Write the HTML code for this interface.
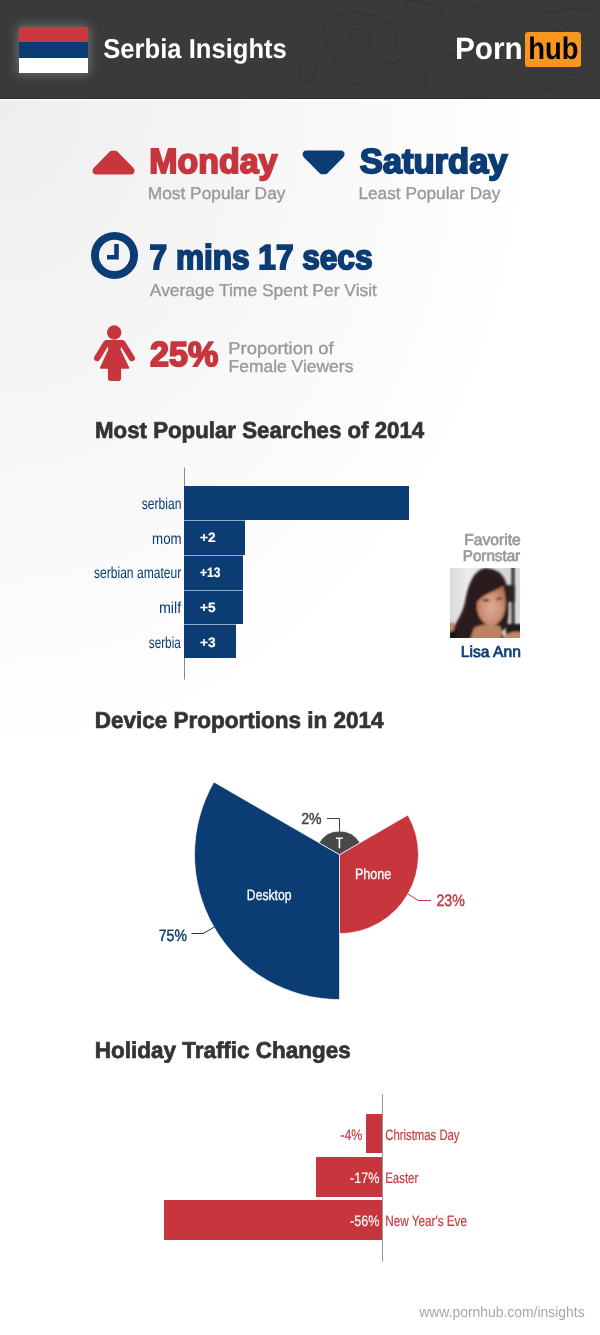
<!DOCTYPE html>
<html lang="en">
<head>
<meta charset="utf-8">
<title>Serbia Insights</title>
<style>
*{box-sizing:border-box;margin:0;padding:0}
html,body{width:600px;height:1335px;overflow:hidden}
body{position:relative;font-family:"Liberation Sans",sans-serif;background:#fff;color:#333}
#bg{position:absolute;left:0;top:0;width:600px;height:1335px;background:radial-gradient(ellipse 540px 660px at 0 100px,#eeeeee 0%,#f2f2f2 25%,#fafafa 70%,#ffffff 100%)}
#hdr{position:absolute;left:0;top:0;width:600px;height:99px;background:#3a3a3a;border-bottom:1px solid #2c2c2c;overflow:hidden}
.abs{position:absolute}
.t{position:absolute;left:0;top:0;white-space:nowrap;line-height:1;transform-origin:0 0;text-rendering:geometricPrecision}
.bar{position:absolute;background:#0c3c74;left:184.400px}
.sep{border-top:1px solid #93a8c4}
.hbar{position:absolute;background:#c7363d}
</style>
</head>
<body>
<div id="bg"></div>
<div id="hdr">
  <svg class="abs" style="left:0;top:0" width="600" height="99" viewBox="0 0 600 99" fill="none" stroke="#2f2f2f" stroke-width="1" stroke-linejoin="round" opacity=".8">
    <path d="M325 22 Q333 12 346 14 Q358 9 366 16 Q378 13 384 22 Q395 24 398 34 Q392 40 396 48 Q404 52 400 60 Q392 66 384 62 Q380 72 370 76 Q362 86 352 84 Q348 74 340 70 Q332 62 334 52 Q324 46 326 36 Q320 30 325 22 Z"/>
    <path d="M352 30 Q362 26 368 34 Q372 44 364 50 Q354 50 350 42 Q348 34 352 30 Z"/>
    <path d="M404 2 Q416 -2 428 4 Q440 6 442 16 Q438 28 430 36 Q424 30 418 24 Q408 18 404 2 Z"/>
    <path d="M470 8 Q476 4 482 8 Q480 14 474 14 Z"/>
    <path d="M536 20 Q544 10 556 12 Q566 6 578 10 Q590 8 600 14 M540 28 Q548 24 552 30 Q560 34 566 28 Q574 26 580 20 M560 78 Q570 72 584 76 Q594 80 600 76 M520 86 Q530 82 540 88 Q548 92 556 88"/>
    <path d="M300 60 Q308 54 314 62 Q318 72 312 80 Q304 84 300 76 Z M290 14 Q300 10 306 16 Q302 24 294 22 Z M410 70 Q418 66 424 74 Q428 84 420 90 M446 56 Q452 52 458 58"/>
  </svg>
  <div class="abs" style="left:19px;top:27px;width:69px;height:46px;background:linear-gradient(#c9383f 0,#c9383f 15.300px,#0c3c74 15.300px,#0c3c74 30.600px,#fff 30.600px);box-shadow:0 0 11px 1px rgba(255,255,255,.3)"></div>
  <div class="abs" style="left:525px;top:32px;width:56px;height:35px;background:#f7971d;border-radius:3px"></div>
</div>
<div class="abs" style="left:0;top:99px;width:600px;height:2px;background:linear-gradient(#fff,rgba(255,255,255,0))"></div>

<svg class="abs" style="left:0;top:0" width="600" height="1335" viewBox="0 0 600 1335">
  <path d="M111.600 150.800 H115.600 Q116.600 150.800 117.300 151.500 L133.300 167.800 Q135.300 170 134.300 172.300 Q133.300 174.500 131 174.500 H96.100 Q93.800 174.500 92.800 172.300 Q91.800 170 93.800 167.800 L109.900 151.500 Q110.600 150.800 111.600 150.800 Z" fill="#c7363d"/>
  <path d="M 321.60 174.20 H 325.60 Q 326.60 174.20 327.30 173.50 L 343.30 157.20 Q 345.30 155.00 344.30 152.70 Q 343.30 150.50 341.00 150.50 H 306.10 Q 303.80 150.50 302.80 152.70 Q 301.80 155.00 303.80 157.20 L 319.90 173.50 Q 320.60 174.20 321.60 174.20 Z" fill="#0c3c74"/>
  <circle cx="114.500" cy="255.400" r="19.550" fill="none" stroke="#0c3c74" stroke-width="7.900"/>
  <path d="M116.500 244 V257.200 H107" fill="none" stroke="#0c3c74" stroke-width="4.600"/>
  <g fill="#c7363d">
    <circle cx="114.200" cy="332.500" r="7.200"/>
    <path d="M106.500 340.100 H122 L120.600 349.500 L129.200 367.600 Q129.600 368.700 128.500 368.700 H100.700 Q99.600 368.700 100 367.600 L108.300 349.500 Z"/>
    <rect x="107.900" y="364" width="13.200" height="16.900" rx="2.600"/>
    <path d="M106.300 343.200 L97.100 358.100 M122.400 343.200 L131.800 358.100" stroke="#c7363d" stroke-width="6.200" stroke-linecap="round" fill="none"/>
  </g>
  <!-- search axis -->
  <rect x="184" y="467.500" width="1" height="212" fill="#8a8a8a"/>
  <!-- holiday axis -->
  <rect x="382" y="1094" width="1" height="167.500" fill="#999"/>
  <!-- pie -->
  <g stroke="#fff" stroke-opacity=".85" stroke-width="0.8" stroke-linejoin="round">
    <path d="M339.5 854.6 L339.50 999.60 A145 145 0 0 1 213.93 782.10 Z" fill="#0c3c74"/>
    <path d="M339.5 854.6 L407.92 815.10 A79 79 0 0 1 339.50 933.60 Z" fill="#c7363d"/>
    <path d="M339.5 854.6 L319.06 842.80 A23.6 23.6 0 0 1 359.94 842.80 Z" fill="#484848"/>
  </g>
  <path d="M327 818.500 H339.500 V831" fill="none" stroke="#444" stroke-width="1"/>
  <path d="M191.500 933.500 H203 L214.500 927" fill="none" stroke="#0c3c74" stroke-width="1"/>
  <path d="M431 900.500 H418.200 L408 894" fill="none" stroke="#c7363d" stroke-width="1"/>
</svg>

<div class="bar" style="top:486px;width:225.100px;height:34.200px"></div>
<div class="bar sep" style="top:520.200px;width:60.300px;height:34.700px"></div>
<div class="bar sep" style="top:554.900px;width:58.300px;height:34.700px"></div>
<div class="bar sep" style="top:589.600px;width:58.300px;height:34.700px"></div>
<div class="bar sep" style="top:624.300px;width:51.300px;height:34.100px"></div>

<svg class="abs" style="left:450px;top:568px" width="70" height="70" viewBox="0 0 70 70">
  <defs>
    <filter id="bl" x="-10%" y="-10%" width="120%" height="120%"><feGaussianBlur stdDeviation="0.9"/></filter>
    <linearGradient id="pbg" x1="0" y1="0" x2="1" y2="0"><stop offset="0" stop-color="#d9d9dc"/><stop offset=".25" stop-color="#ececee"/><stop offset=".8" stop-color="#d4d5d8"/><stop offset="1" stop-color="#dcdde2"/></linearGradient>
    <radialGradient id="skin" cx=".5" cy=".55" r=".6"><stop offset="0" stop-color="#e0ab93"/><stop offset=".6" stop-color="#cc8f74"/><stop offset="1" stop-color="#b0704f"/></radialGradient>
    <clipPath id="pc"><rect x="0" y="0" width="70" height="70"/></clipPath>
  </defs>
  <g clip-path="url(#pc)">
    <rect x="0" y="0" width="70" height="70" fill="url(#pbg)"/>
    <g filter="url(#bl)">
      <rect x="61.500" y="-2" width="3" height="74" fill="#262626"/>
      <rect x="57" y="17" width="8" height="17" fill="#2a2624"/>
      <rect x="56" y="56" width="16" height="11" fill="#1c1a1a"/>
      <path d="M52 72 Q56 62 72 64 V72 Z" fill="#c08768"/>
      <path d="M-2 55 Q2 53 5 56 L6 65 L-2 67 Z" fill="#c08768"/>
      <path d="M36 0 Q50 1 55 12 Q59 22 58.500 36 Q59 50 57 58 Q54 63 50 64 L30 72 H4 Q2 62 6 55 Q12 46 15 34 Q17 20 22 11 Q27 1 36 0 Z" fill="#2a1c1c"/>
      <path d="M24 60 Q34 54 50 58 L54 72 H20 Z" fill="#bd8163"/>
      <path d="M27 34 Q33 27 44 23 Q50 20 53 18 Q56 26 55.500 38 Q54.500 50 47 56 Q42 59.500 37 57 Q29 52 27 42 Z" fill="url(#skin)"/>
      <path d="M33 31.500 Q36.500 30.300 40 32.500 Q36.500 34 33 33 Z" fill="#2a1a18"/>
      <path d="M46.500 30.500 Q50 28.800 53 30 Q50 32.300 46.500 32 Z" fill="#2a1a18"/>
      <path d="M38 49.500 Q42.500 47.500 48 48.500 Q44 53 38 49.500 Z" fill="#d98a97"/>
      <path d="M-2 64 L7 62 L8 72 H-2 Z" fill="#241818"/>
      <path d="M52 64 L54 72 H51 Z" fill="#1c1414"/>
    </g>
  </g>
</svg>

<div class="hbar" style="left:366.300px;top:1113.700px;width:15.400px;height:39.800px"></div>
<div class="hbar" style="left:316px;top:1157px;width:65.700px;height:39.600px"></div>
<div class="hbar" style="left:164px;top:1200.200px;width:217.700px;height:39.600px"></div>

<div class="t" style="font-size:27.3px;color:#fff;transform:translate(103.22px,35.00px) scaleX(0.9382);font-weight:bold;">Serbia Insights</div>
<div class="t" style="font-size:31.04px;color:#fff;transform:translate(455.03px,33.00px) scaleX(0.9581);font-weight:bold;">Porn</div>
<div class="t" style="font-size:31.04px;color:#000;transform:translate(528.24px,33.00px) scaleX(0.8836);font-weight:bold;">hub</div>
<div class="t" style="font-size:34.86px;color:#c7363d;transform:translate(149.30px,145.00px) scaleX(0.9725);font-weight:bold;-webkit-text-stroke:1.9px #c7363d;">Monday</div>
<div class="t" style="font-size:17px;color:#999999;transform:translate(147.71px,185.00px) scaleX(1.0193);-webkit-text-stroke:0.35px #999999;">Most Popular Day</div>
<div class="t" style="font-size:34.86px;color:#0c3c74;transform:translate(359.63px,145.00px) scaleX(0.9919);font-weight:bold;-webkit-text-stroke:1.9px #0c3c74;">Saturday</div>
<div class="t" style="font-size:17px;color:#999999;transform:translate(358.43px,185.00px) scaleX(1.0144);-webkit-text-stroke:0.35px #999999;">Least Popular Day</div>
<div class="t" style="font-size:34.68px;color:#0c3c74;transform:translate(149.59px,241.00px) scaleX(0.9105);font-weight:bold;-webkit-text-stroke:1.9px #0c3c74;">7 mins 17 secs</div>
<div class="t" style="font-size:17px;color:#999999;transform:translate(149.82px,282.00px) scaleX(1.0258);-webkit-text-stroke:0.35px #999999;">Average Time Spent Per Visit</div>
<div class="t" style="font-size:34.68px;color:#c7363d;transform:translate(150.11px,338.00px) scaleX(0.9825);font-weight:bold;-webkit-text-stroke:1.9px #c7363d;">25%</div>
<div class="t" style="font-size:17px;color:#999999;transform:translate(228.36px,340.00px) scaleX(1.0805);-webkit-text-stroke:0.35px #999999;">Proportion of</div>
<div class="t" style="font-size:17px;color:#999999;transform:translate(228.54px,358.00px) scaleX(1.0268);-webkit-text-stroke:0.35px #999999;">Female Viewers</div>
<div class="t" style="font-size:23px;color:#333333;transform:translate(95.00px,419.00px) scaleX(0.9682);font-weight:bold;-webkit-text-stroke:0.7px #333333;">Most Popular Searches of 2014</div>
<div class="t" style="font-size:23px;color:#333333;transform:translate(94.70px,709.00px) scaleX(0.9782);font-weight:bold;-webkit-text-stroke:0.7px #333333;">Device Proportions in 2014</div>
<div class="t" style="font-size:23px;color:#333333;transform:translate(94.75px,1039.00px) scaleX(0.9770);font-weight:bold;-webkit-text-stroke:0.7px #333333;">Holiday Traffic Changes</div>
<div class="t" style="font-size:16px;color:#0c3c74;transform:translate(141.78px,497.00px) scaleX(0.7576);">serbian</div>
<div class="t" style="font-size:16px;color:#0c3c74;transform:translate(152.06px,532.00px) scaleX(0.8308);">mom</div>
<div class="t" style="font-size:16px;color:#0c3c74;transform:translate(93.95px,566.00px) scaleX(0.7548);">serbian amateur</div>
<div class="t" style="font-size:16px;color:#0c3c74;transform:translate(158.96px,601.00px) scaleX(0.8912);">milf</div>
<div class="t" style="font-size:16px;color:#0c3c74;transform:translate(148.75px,636.00px) scaleX(0.7352);">serbia</div>
<div class="t" style="font-size:13.57px;color:#fff;transform:translate(199.95px,531.00px) scaleX(1.0079);font-weight:bold;-webkit-text-stroke:0.2px #fff;">+2</div>
<div class="t" style="font-size:13.57px;color:#fff;transform:translate(200.09px,566.00px) scaleX(0.8863);font-weight:bold;-webkit-text-stroke:0.2px #fff;">+13</div>
<div class="t" style="font-size:13.57px;color:#fff;transform:translate(200.03px,601.00px) scaleX(1.0056);font-weight:bold;-webkit-text-stroke:0.2px #fff;">+5</div>
<div class="t" style="font-size:13.57px;color:#fff;transform:translate(199.95px,636.00px) scaleX(1.0087);font-weight:bold;-webkit-text-stroke:0.2px #fff;">+3</div>
<div class="t" style="font-size:15.8px;color:#999999;transform:translate(464.16px,533.00px) scaleX(0.9918);-webkit-text-stroke:0.7px #999999;">Favorite</div>
<div class="t" style="font-size:15.58px;color:#999999;transform:translate(462.78px,549.00px) scaleX(0.9748);-webkit-text-stroke:0.7px #999999;">Pornstar</div>
<div class="t" style="font-size:15.8px;color:#0c3c74;transform:translate(460.85px,645.00px) scaleX(0.9907);-webkit-text-stroke:0.7px #0c3c74;">Lisa Ann</div>
<div class="t" style="font-size:15.83px;color:#444;transform:translate(301.14px,812.00px) scaleX(0.8882);-webkit-text-stroke:0.45px #444;">2%</div>
<div class="t" style="font-size:15px;color:#fff;transform:translate(335.71px,836.00px) scaleX(0.8078);-webkit-text-stroke:0.3px #fff;">T</div>
<div class="t" style="font-size:15px;color:#fff;transform:translate(354.91px,867.00px) scaleX(0.8398);-webkit-text-stroke:0.3px #fff;">Phone</div>
<div class="t" style="font-size:15px;color:#fff;transform:translate(246.84px,888.00px) scaleX(0.8111);-webkit-text-stroke:0.3px #fff;">Desktop</div>
<div class="t" style="font-size:16.5px;color:#c7363d;transform:translate(436.42px,893.00px) scaleX(0.8579);-webkit-text-stroke:0.45px #c7363d;">23%</div>
<div class="t" style="font-size:16.5px;color:#0c3c74;transform:translate(158.83px,928.00px) scaleX(0.8480);-webkit-text-stroke:0.45px #0c3c74;">75%</div>
<div class="t" style="font-size:15px;color:#c7363d;transform:translate(340.25px,1128.00px) scaleX(0.8300);-webkit-text-stroke:0.15px #c7363d;">-4%</div>
<div class="t" style="font-size:15px;color:#c7363d;transform:translate(385.32px,1128.00px) scaleX(0.7545);-webkit-text-stroke:0.15px #c7363d;">Christmas Day</div>
<div class="t" style="font-size:15px;color:#fff;transform:translate(350.12px,1171.00px) scaleX(0.8402);-webkit-text-stroke:0.15px #fff;">-17%</div>
<div class="t" style="font-size:15px;color:#c7363d;transform:translate(385.19px,1171.00px) scaleX(0.7638);-webkit-text-stroke:0.15px #c7363d;">Easter</div>
<div class="t" style="font-size:15px;color:#fff;transform:translate(350.12px,1214.00px) scaleX(0.8402);-webkit-text-stroke:0.15px #fff;">-56%</div>
<div class="t" style="font-size:15px;color:#c7363d;transform:translate(385.18px,1214.00px) scaleX(0.7822);-webkit-text-stroke:0.15px #c7363d;">New Year's Eve</div>
<div class="t" style="font-size:15px;color:#a8a8a8;transform:translate(419.27px,1305.00px) scaleX(0.9266);">www.pornhub.com/insights</div>
</body>
</html>
